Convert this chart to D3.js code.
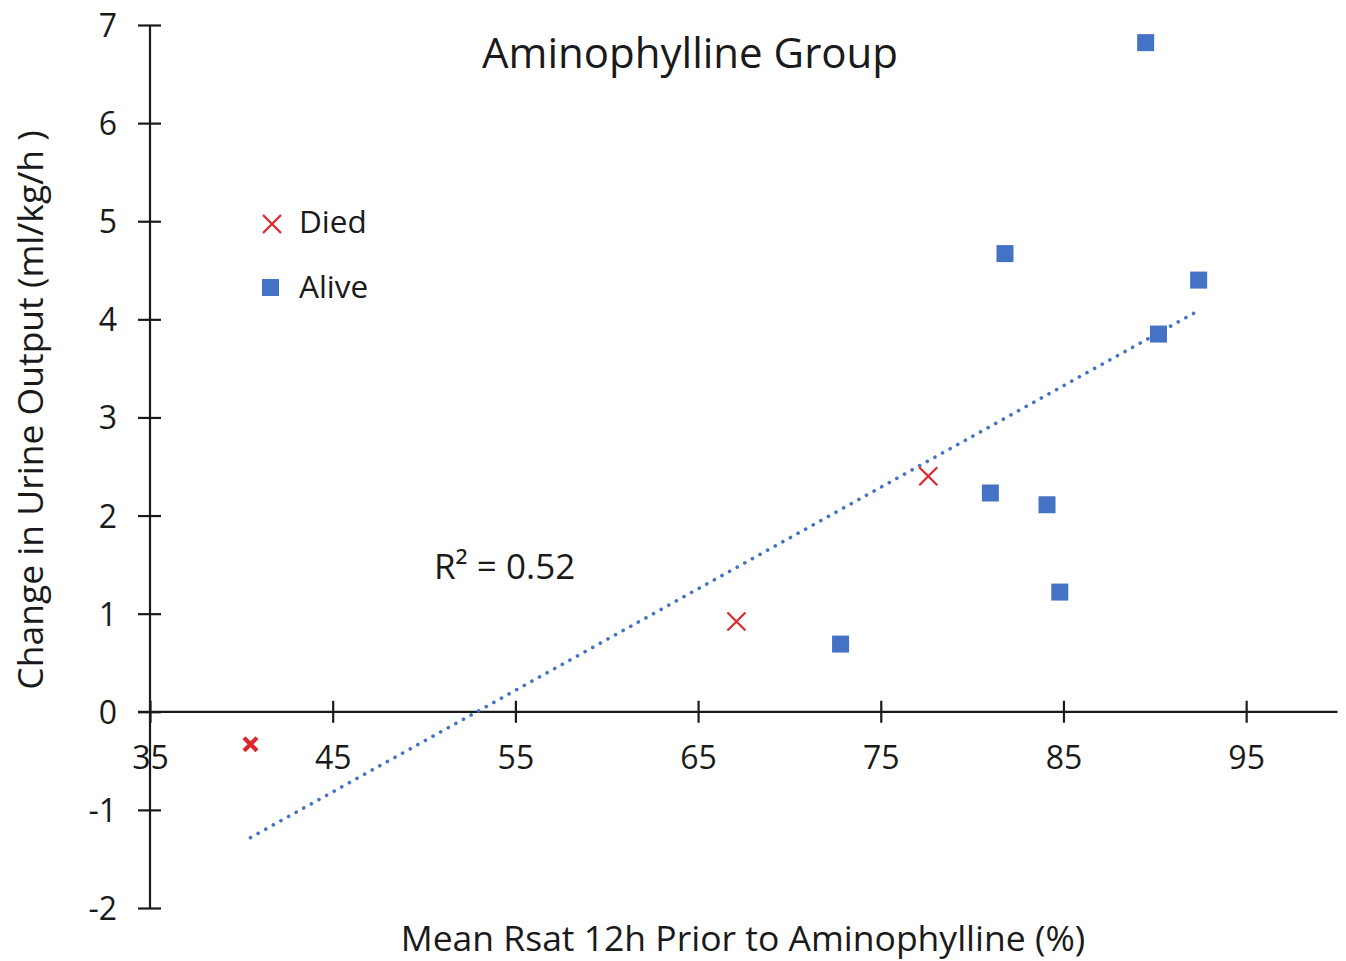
<!DOCTYPE html>
<html>
<head>
<meta charset="utf-8">
<script src="https://cdn.jsdelivr.net/npm/d3@7"></script>
<style>
  body { margin: 0; background: #fff; }
  text { font-family: "Open Sans", Lato, sans-serif; fill: #1a1a1a; }
</style>
</head>
<body>
<svg width="1346" height="961"></svg>
<script>
// data
var aliveX = [89.5, 81.8, 92.4, 90.2, 81.0, 84.1, 84.8, 72.8];
var aliveY = [6.82, 4.67, 4.40, 3.85, 2.23, 2.11, 1.22, 0.69];
var diedX = [40.5, 67.1, 77.6];
var diedY = [-0.33, 0.92, 2.40];
var xTicks = [35, 45, 55, 65, 75, 85, 95];
var yTicks = [-2, -1, 0, 1, 2, 3, 4, 5, 6, 7];
var rSquaredLabel = "R² = 0.52";

var blue = "#4472c4", red = "#e0262b";

var svg = d3.select("svg");

// set the ranges
var x = d3.scaleLinear().domain([35, 100]).range([150, 1337.5]);
var y = d3.scaleLinear().domain([-2, 7]).range([908, 25]);

// plain hyphen for negatives, like the original
var fmt = function(d) { return String(d); };

// axes: ticks cross the lines
var yAxis = svg.append("g").attr("transform", "translate(" + x(35) + ",0)")
    .call(d3.axisLeft(y).tickValues(yTicks).tickSize(11).tickSizeOuter(0).tickPadding(22).tickFormat(fmt));
yAxis.selectAll(".tick line").attr("x2", -12).attr("x1", 11);
yAxis.select(".domain").attr("d", "M0," + y(-2) + "V" + y(7));

var xAxis = svg.append("g").attr("transform", "translate(0," + y(0) + ")")
    .call(d3.axisBottom(x).tickValues(xTicks).tickSize(11).tickSizeOuter(0).tickPadding(24).tickFormat(fmt));
xAxis.selectAll(".tick line").attr("y1", -11).attr("y2", 11);
xAxis.select(".domain").attr("d", "M138,0H" + x(100));

svg.selectAll(".domain, .tick line").attr("stroke", "#1a1a1a").attr("stroke-width", 2.2);
svg.selectAll(".tick text").style("font-size", "32px").style("font-family", "'Open Sans', sans-serif").attr("fill", "#1a1a1a");
yAxis.selectAll(".tick text").attr("dy", "0.36em");
xAxis.selectAll(".tick text").attr("dy", "0.68em");

// trend line (least squares of all points)
var allX = aliveX.concat(diedX), allY = aliveY.concat(diedY);
var mx = d3.mean(allX), my = d3.mean(allY);
var sxy = d3.sum(allX, function(v, i) { return (v - mx) * (allY[i] - my); });
var sxx = d3.sum(allX, function(v) { return (v - mx) * (v - mx); });
var slope = sxy / sxx, icpt = my - slope * mx;
var x0 = d3.min(allX), x1 = d3.max(allX);
svg.append("line")
    .attr("x1", x(x0)).attr("y1", y(icpt + slope * x0))
    .attr("x2", x(x1)).attr("y2", y(icpt + slope * x1))
    .attr("stroke", blue).attr("stroke-width", 3.6)
    .attr("stroke-linecap", "round").attr("stroke-dasharray", "0.1 8.6");

// alive squares
svg.selectAll(".alive").data(aliveX).enter().append("rect")
    .attr("class", "alive")
    .attr("x", function(d) { return x(d) - 8.5; })
    .attr("y", function(d, i) { return y(aliveY[i]) - 8.5; })
    .attr("width", 17).attr("height", 17)
    .attr("fill", blue);

// died crosses (first one drawn bold as in the picture)
function cross(g, cx, cy, r, w) {
  g.append("path")
    .attr("d", "M" + (cx - r) + "," + (cy - r) + "L" + (cx + r) + "," + (cy + r) +
               "M" + (cx - r) + "," + (cy + r) + "L" + (cx + r) + "," + (cy - r))
    .attr("stroke", red).attr("stroke-width", w).attr("fill", "none");
}
diedX.forEach(function(d, i) {
  if (i === 0) cross(svg, x(d), y(diedY[i]), 6.5, 4.2);
  else cross(svg, x(d), y(diedY[i]), 9, 2.2);
});

// title
svg.append("text").attr("x", 690).attr("y", 68).attr("text-anchor", "middle")
    .style("font-size", "42px").text("Aminophylline Group");

// legend
cross(svg, 272, 224, 9, 2.2);
svg.append("text").attr("x", 299).attr("y", 233).style("font-size", "31.5px").text("Died");
svg.append("rect").attr("x", 262).attr("y", 279).attr("width", 17).attr("height", 17).attr("fill", blue);
svg.append("text").attr("x", 299).attr("y", 298).style("font-size", "31.5px").text("Alive");

// R squared
svg.append("text").attr("x", 434).attr("y", 579).style("font-size", "35px").text(rSquaredLabel);

// axis titles
svg.append("text").attr("x", 743).attr("y", 951).attr("text-anchor", "middle")
    .style("font-size", "35.5px").text("Mean Rsat 12h Prior to Aminophylline (%)");
svg.append("text").attr("transform", "translate(43,410) rotate(-90)").attr("text-anchor", "middle")
    .style("font-size", "35.5px").text("Change in Urine Output (ml/kg/h )");
</script>
</body>
</html>
